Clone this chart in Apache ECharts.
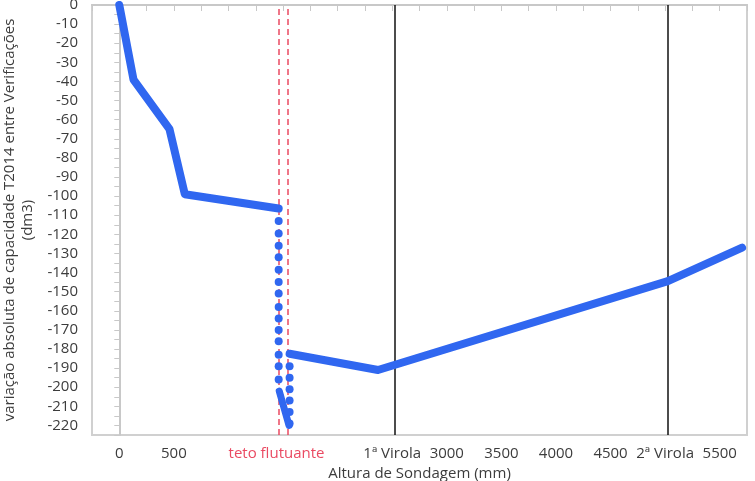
<!DOCTYPE html>
<html lang="pt">
<head>
<meta charset="UTF-8">
<title>Variação de capacidade T2014</title>
<style>
    * { margin: 0; padding: 0; box-sizing: border-box; }
    html, body { width: 100%; height: 100%; background: #fff; }
    #box { width: 755px; height: 481px; }
</style>
<script src="https://cdn.jsdelivr.net/npm/echarts@6/dist/echarts.min.js"></script>
</head>
<body>
<div id="box"></div>
<script>
    // trecho antes do teto flutuante
    var partA_x = [0, 130, 460, 600, 1460];
    var partA_y = [0, -39, -65, -99, -106.5];

    // pontos soltos na primeira coluna (teto flutuante)
    var dots1_x = 1460;
    var dots1_y = [-113, -119.5, -126, -132, -138.5, -145, -151, -158, -164, -170, -176, -183, -189, -196];

    // trecho denso inclinado no fundo
    var slant_x = [1465, 1555];
    var slant_y = [-202, -220];

    // segunda coluna de pontos
    var dots2_x = 1560;
    var dots2_y = [-189, -195, -201, -207, -213, -219];

    // trecho depois do teto flutuante
    var partC_x = [1560, 2370, 5025, 5705];
    var partC_y = [-182.5, -191, -144.5, -127];

    // linhas verticais
    var tetoLines = [1465, 1540];
    var virolaLines = [2520, 5020];

    // rótulos do eixo x
    var xTickValues = [0, 500, 1500, 2500, 3000, 3500, 4000, 4500, 5000, 5500];
    var xTickText = ['0', '500', '{red|teto flutuante}', '1ª Virola', '3000', '3500', '4000', '4500', '2ª Virola', '5500'];

    function pairs(xs, ys) {
        return ys.map(function (y, i) { return [Array.isArray(xs) ? xs[i] : xs, y]; });
    }

    var blue = '#3067f0';
    var red = '#ea4a62';
    var txt = '#3c3c3c';
    var font = 'Open Sans';
    var fs = 15;

    var myChart = echarts.init(document.getElementById('box'));

    myChart.setOption({
        animation: false,
        grid: {
            left: 92, right: 8, top: 5, bottom: 46,
            show: true, borderColor: '#d0d0d0', borderWidth: 2,
            containLabel: false, outerBoundsMode: 'none'
        },
        xAxis: {
            type: 'value',
            min: -250, max: 5750, interval: 250,
            name: 'Altura de Sondagem (mm)',
            nameLocation: 'middle', nameGap: 31,
            nameTextStyle: { color: txt, fontFamily: font, fontSize: fs },
            axisLine: { lineStyle: { color: '#c8c8c8', width: 2 } },
            axisTick: { length: 6, lineStyle: { color: '#c8c8c8' } },
            splitLine: { show: false },
            axisLabel: {
                margin: 11, color: txt, fontFamily: font, fontSize: fs,
                showMinLabel: true, showMaxLabel: true,
                formatter: function (v) {
                    var i = xTickValues.indexOf(v);
                    return i < 0 ? '' : xTickText[i];
                },
                rich: {
                    red: { color: red, fontFamily: font, fontSize: fs, padding: [0, 13, 0, 0] }
                }
            }
        },
        yAxis: {
            type: 'value',
            min: -225, max: 0, interval: 5,
            name: 'variação absoluta de capacidade T2014 entre Verificações\n(dm3)',
            nameLocation: 'middle', nameGap: 53, nameRotate: 90,
            nameTextStyle: { color: txt, fontFamily: font, fontSize: fs, lineHeight: 18 },
            axisLine: { show: true, lineStyle: { color: '#c8c8c8', width: 2 } },
            axisTick: { show: true, length: 5, lineStyle: { color: '#c8c8c8' } },
            splitLine: { show: false },
            axisLabel: {
                margin: 14, color: txt, fontFamily: font, fontSize: fs,
                formatter: function (v) { return v % 10 === 0 ? String(v) : ''; }
            }
        },
        series: [
            {
                type: 'line', silent: true, z: 1,
                data: [],
                markLine: {
                    z: 1, silent: true, symbol: 'none', label: { show: false },
                    lineStyle: { color: red, type: [6, 4], width: 1.5 },
                    data: tetoLines.map(function (x) { return { xAxis: x }; })
                }
            },
            {
                type: 'line', silent: true, z: 1,
                data: [],
                markLine: {
                    z: 1, silent: true, symbol: 'none', label: { show: false },
                    lineStyle: { color: '#111', type: 'solid', width: 1.5 },
                    data: virolaLines.map(function (x) { return { xAxis: x }; })
                }
            },
            {
                type: 'line', showSymbol: false, z: 3,
                data: pairs(partA_x, partA_y),
                lineStyle: { color: blue, width: 8, cap: 'round', join: 'round' }
            },
            {
                type: 'scatter', symbolSize: 8, z: 3,
                data: pairs(dots1_x, dots1_y),
                itemStyle: { color: blue, opacity: 1 }
            },
            {
                type: 'line', showSymbol: false, z: 3,
                data: pairs(slant_x, slant_y),
                lineStyle: { color: blue, width: 7, cap: 'round' }
            },
            {
                type: 'scatter', symbolSize: 8, z: 3,
                data: pairs(dots2_x, dots2_y),
                itemStyle: { color: blue, opacity: 1 }
            },
            {
                type: 'line', showSymbol: false, z: 3,
                data: pairs(partC_x, partC_y),
                lineStyle: { color: blue, width: 8, cap: 'round', join: 'round' }
            }
        ]
    });

    window.onresize = function () {
        myChart.resize();
    };
</script>
</body>
</html>
